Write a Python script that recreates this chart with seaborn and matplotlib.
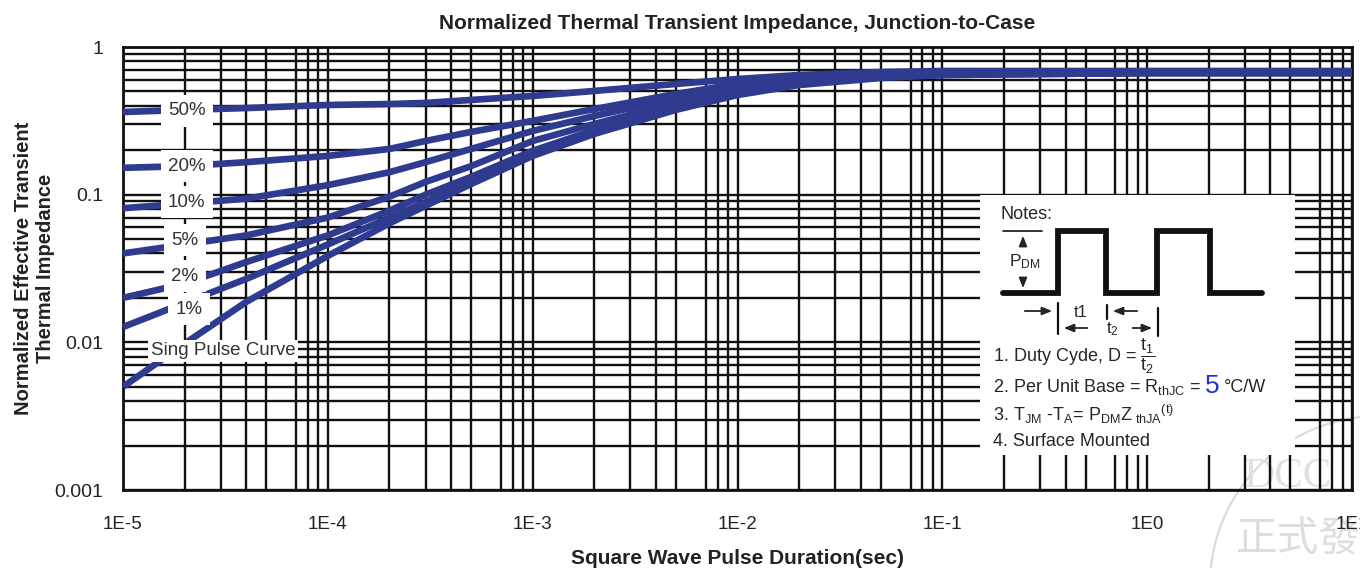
import numpy as np
import pandas as pd
import matplotlib.pyplot as plt
import seaborn as sns
from matplotlib.ticker import LogLocator, NullFormatter
from matplotlib.patches import Rectangle, Ellipse

# values
pulse_sec = [1e-5, 2e-5, 4e-5, 1e-4, 2e-4, 3e-4, 5e-4, 1e-3, 2e-3, 5e-3,
             1e-2, 2e-2, 5e-2, 1e-1, 1, 10]
z_d50 = [0.363, 0.375, 0.386, 0.405, 0.411, 0.418, 0.438, 0.466, 0.504, 0.562,
         0.607, 0.646, 0.677, 0.688, 0.688, 0.688]
z_d20 = [0.152, 0.156, 0.166, 0.183, 0.204, 0.231, 0.266, 0.316, 0.380, 0.481,
         0.562, 0.617, 0.656, 0.667, 0.677, 0.677]
z_d10 = [0.081, 0.087, 0.094, 0.116, 0.142, 0.166, 0.204, 0.270, 0.341, 0.452,
         0.536, 0.598, 0.646, 0.667, 0.677, 0.677]
z_d5 = [0.040, 0.046, 0.053, 0.070, 0.097, 0.122, 0.156, 0.231, 0.301, 0.418,
        0.520, 0.589, 0.636, 0.656, 0.667, 0.667]
z_d2 = [0.020, 0.025, 0.035, 0.053, 0.078, 0.100, 0.132, 0.198, 0.274, 0.399,
        0.496, 0.571, 0.626, 0.656, 0.667, 0.667]
z_d1 = [0.0127, 0.0185, 0.0269, 0.046, 0.070, 0.089, 0.122, 0.189, 0.266, 0.386,
        0.488, 0.562, 0.626, 0.646, 0.667, 0.667]
z_single = [0.0050, 0.0098, 0.0188, 0.0385, 0.064, 0.084, 0.118, 0.183, 0.258, 0.375,
            0.473, 0.553, 0.617, 0.646, 0.667, 0.667]

curve_names = ['50%', '20%', '10%', '5%', '2%', '1%', 'Sing Pulse Curve']
curve_values = [z_d50, z_d20, z_d10, z_d5, z_d2, z_d1, z_single]

x_ticks = [1e-5, 1e-4, 1e-3, 1e-2, 1e-1, 1, 10]
x_ticklabels = ['1E-5', '1E-4', '1E-3', '1E-2', '1E-1', '1E0', '1E1']
y_ticks = [0.001, 0.01, 0.1, 1]
y_ticklabels = ['0.001', '0.01', '0.1', '1']

rows = []
for name, vals in zip(curve_names, curve_values):
    for t, z in zip(pulse_sec, vals):
        rows.append({'duty': name, 't': t, 'z': z})
df = pd.DataFrame(rows)

sns.set_theme(style='white')
plt.rcParams['font.family'] = ['Liberation Sans', 'DejaVu Sans']
plt.rcParams['mathtext.fontset'] = 'custom'
plt.rcParams['mathtext.rm'] = 'Liberation Sans'
plt.rcParams['mathtext.it'] = 'Liberation Sans:italic'
plt.rcParams['mathtext.bf'] = 'Liberation Sans:bold'

blue = '#2e3b8e'
fig = plt.figure(figsize=(13.6, 5.68), dpi=100)
ax = fig.add_axes([0.09044, 0.13732, 0.90368, 0.77993])
ax.patch.set_alpha(0)

sns.lineplot(data=df, x='t', y='z', hue='duty', palette=[blue] * 7,
             legend=False, ax=ax, lw=4.8, sort=False, zorder=3,
             solid_capstyle='butt')

ax.set_xscale('log')
ax.set_yscale('log')
ax.set_xlim(1e-5, 10)
ax.set_ylim(0.001, 1)
ax.set_xticks(x_ticks, x_ticklabels)
ax.set_yticks(y_ticks, y_ticklabels)
ax.xaxis.set_minor_locator(LogLocator(base=10, subs=[2, 3, 4, 5, 7, 8, 9]))
ax.yaxis.set_minor_locator(LogLocator(base=10, subs=np.arange(2, 10)))
ax.xaxis.set_minor_formatter(NullFormatter())
ax.yaxis.set_minor_formatter(NullFormatter())
ax.set_axisbelow(True)
ax.grid(True, which='both', color='#111111', lw=1.7)
ax.tick_params(which='both', length=0)
ax.tick_params(axis='x', pad=19, labelsize=13.5, labelcolor='#222222')
ax.tick_params(axis='y', pad=14, labelsize=14, labelcolor='#222222')
for s in ax.spines.values():
    s.set_visible(True)
    s.set_color('#111111')
    s.set_linewidth(2)

ax.set_title('Normalized Thermal Transient Impedance, Junction-to-Case',
             fontsize=15, fontweight='bold', pad=13, color='#222222')
ax.set_xlabel('Square Wave Pulse Duration(sec)', fontsize=15,
              fontweight='bold', labelpad=11, color='#222222')
ax.set_ylabel('Normalized Effective Transient\nThermal Impedance', fontsize=14.5,
              fontweight='bold', labelpad=0, color='#222222', linespacing=1.2)

# curve labels with white boxes
label_pos = [(2.05e-5, 0.369), (2.05e-5, 0.156), (2.05e-5, 0.089), (2.0e-5, 0.049),
             (2.0e-5, 0.028), (2.1e-5, 0.0168), (3.08e-5, 0.00875)]
for name, (lx, ly) in zip(curve_names, label_pos):
    pad = 0.15 if name.startswith('Sing') else 0.4
    ax.text(lx, ly, name, fontsize=13.5, color='#333333', ha='center', va='center',
            zorder=4, bbox=dict(boxstyle=f'square,pad={pad}', fc='white', ec='none'))

# notes box
tr = ax.transAxes
def fx(px):
    return (px - 123) / 1229
def fy(py):
    return (490 - py) / 443

ax.add_patch(Rectangle((fx(980), fy(455)), fx(1295) - fx(980), fy(195) - fy(455),
                       transform=tr, fc='white', ec='none', zorder=2))
ax.text(fx(1000), fy(214), 'Notes:', transform=tr, fontsize=13, va='center', zorder=5)

wave_x = [1003, 1058, 1058, 1106, 1106, 1157, 1157, 1210, 1210, 1262]
wave_y = [293, 293, 231, 231, 293, 293, 231, 231, 293, 293]
ax.plot([fx(v) for v in wave_x], [fy(v) for v in wave_y], transform=tr,
        color='#111111', lw=4.2, zorder=5, solid_joinstyle='miter')
ax.plot([fx(1003), fx(1042)], [fy(231), fy(231)], transform=tr, color='#111111', lw=1.2, zorder=5)

arrow_kw = dict(arrowstyle='-|>,head_length=0.5,head_width=0.2', color='#2b2220', lw=1.3)
def arrow(x0, y0, x1, y1):
    ax.annotate('', xy=(fx(x1), fy(y1)), xytext=(fx(x0), fy(y0)), xycoords=tr,
                textcoords=tr, arrowprops=arrow_kw, zorder=6)

arrow(1023, 247, 1023, 233)
arrow(1023, 279, 1023, 291)
ax.text(fx(1025), fy(262), r'P$_{\mathrm{DM}}$', transform=tr, fontsize=12.5,
        ha='center', va='center', zorder=6)

for bx, y0, y1 in [(1058, 303, 334), (1107, 305, 319), (1158, 308, 336)]:
    ax.plot([fx(bx), fx(bx)], [fy(y0), fy(y1)], transform=tr, color='#111111', lw=1.6, zorder=6)
arrow(1022, 311, 1055, 311)
arrow(1140, 311, 1110, 311)
arrow(1090, 328, 1061, 328)
arrow(1130, 328, 1155, 328)
ax.text(fx(1081), fy(312), 't1', transform=tr, fontsize=12, ha='center', va='center', zorder=6)
ax.text(fx(1112), fy(329), r't$_2$', transform=tr, fontsize=12, ha='center', va='center', zorder=6)

ax.text(fx(993), fy(356), r'1. Duty Cyde, D = $\dfrac{\mathrm{t}_1}{\mathrm{t}_2}$', transform=tr,
        fontsize=13, va='center', zorder=6)
t2 = ax.text(fx(993), fy(387), r'2. Per Unit Base = R$_{\mathrm{thJC}}$ =', transform=tr,
             fontsize=13, va='center', zorder=6)
t5 = ax.annotate('5', xy=(1, 0.55), xycoords=t2, xytext=(3, 0), textcoords='offset points',
                 fontsize=19, color='#2233cc', va='center', ha='left', zorder=6)
ax.annotate('\u00b0C/W', xy=(1, 0.45), xycoords=t5, xytext=(3, 0), textcoords='offset points',
            fontsize=13, va='center', ha='left', zorder=6)
ax.text(fx(993), fy(414), r'3. T$_{\mathrm{JM}}$ -T$_{\mathrm{A}}$= P$_{\mathrm{DM}}$Z$_{\mathrm{\ thJA}}$$^{\mathrm{(t)}}$',
        transform=tr, fontsize=13, va='center', zorder=6)
ax.text(fx(993), fy(441), '4. Surface Mounted', transform=tr, fontsize=13,
        va='center', zorder=6)

# faint watermark in the corner
fig.patches.append(Ellipse((1379 / 1360, (568 - 585) / 568), 2 * 169 / 1360, 2 * 169 / 568,
                           transform=fig.transFigure, fill=False, ec='#d9d9d9', lw=1.5, zorder=-1))
fig.text(1244 / 1360, (568 - 477) / 568, 'DCC', fontsize=31, color='#e0e0e0',
         family='Liberation Serif', va='center', zorder=-1)
fig.text(1236 / 1360, (568 - 540) / 568, '正式發', fontsize=30, color='#dddddd',
         family=['Noto Sans CJK TC', 'DejaVu Sans'], va='center', zorder=-1)

fig.savefig('out.png', dpi=100)
